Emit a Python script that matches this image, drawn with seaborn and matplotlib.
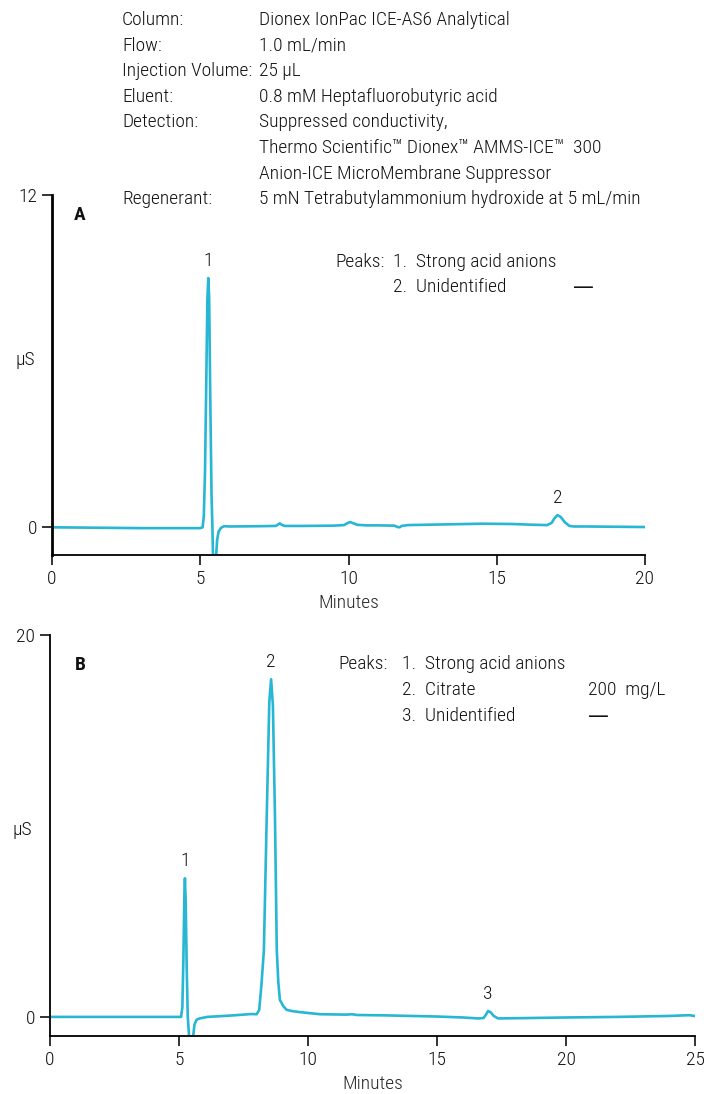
import matplotlib
matplotlib.use("Agg")
import matplotlib.pyplot as plt
import pandas as pd
import seaborn as sns

# ---- Chromatogram A: sample trace (minutes, µS) ----
time_a = [0.0, 1.0, 2.0, 3.0, 4.0, 5.0, 5.08, 5.12, 5.16, 5.20, 5.24, 5.27, 5.30,
          5.34, 5.38, 5.41, 5.44, 5.47, 5.52, 5.57, 5.62, 5.70, 5.80, 6.0, 7.0,
          7.55, 7.62, 7.68, 7.75, 7.85, 8.5, 9.5, 9.85, 9.98, 10.06, 10.15, 10.3,
          10.6, 11.0, 11.55, 11.65, 11.72, 11.8, 12.0, 13.0, 14.0, 14.5, 15.5,
          16.3, 16.7, 16.85, 16.95, 17.05, 17.15, 17.3, 17.45, 17.6, 18.0, 19.0, 20.0]
signal_a = [0.0, -0.01, -0.02, -0.03, -0.03, -0.03, 0.0, 0.4, 2.0, 5.0, 8.2, 9.0, 8.3,
            4.5, 1.2, 0.0, -1.5, -2.8, -1.3, -0.45, -0.15, -0.02, 0.04, 0.03, 0.04,
            0.05, 0.10, 0.14, 0.09, 0.05, 0.05, 0.06, 0.08, 0.16, 0.19, 0.15, 0.09,
            0.07, 0.07, 0.06, 0.01, 0.0, 0.05, 0.08, 0.10, 0.12, 0.13, 0.12,
            0.09, 0.08, 0.16, 0.33, 0.44, 0.38, 0.18, 0.05, 0.03, 0.03, 0.02, 0.01]

# ---- Chromatogram B: sample trace (minutes, µS) ----
time_b = [0.0, 2.0, 4.0, 5.0, 5.08, 5.13, 5.17, 5.21, 5.23, 5.26, 5.30, 5.34, 5.39,
          5.47, 5.55, 5.60, 5.68, 5.80, 6.1, 7.0, 7.8, 8.01, 8.11, 8.20, 8.29,
          8.40, 8.50, 8.57, 8.64, 8.72, 8.79, 8.85, 8.91, 9.05, 9.17, 9.4, 9.69,
          10.47, 11.5, 11.7, 11.9, 13.0, 14.0, 15.0, 16.0, 16.6, 16.8, 16.9,
          16.98, 17.08, 17.2, 17.37, 18.0, 19.0, 20.0, 22.0, 24.0, 24.8, 25.0]
signal_b = [0.0, 0.0, 0.0, 0.0, 0.0, 0.5, 3.0, 6.5, 7.26, 6.0, 2.5, 0.0, -1.0,
            -3.0, -1.0, -0.4, -0.15, -0.08, 0.0, 0.07, 0.15, 0.14, 0.37, 1.76, 3.5,
            10.47, 16.5, 17.68, 16.3, 10.47, 3.5, 1.8, 0.89, 0.55, 0.37, 0.30, 0.25,
            0.14, 0.12, 0.14, 0.10, 0.08, 0.05, 0.02, -0.03, -0.08, -0.06, 0.12,
            0.31, 0.24, 0.05, -0.08, -0.07, -0.05, -0.03, 0.0, 0.05, 0.09, 0.04]

# ---- Peak numbering ----
peak_time_a = [5.27, 17.05]
peak_height_a = [9.0, 0.44]
peak_id_a = ["1", "2"]
peak_time_b = [5.23, 8.57, 16.98]
peak_height_b = [7.26, 17.68, 0.31]
peak_id_b = ["1", "2", "3"]

# ---- Axis ticks ----
x_ticks_a = [0, 5, 10, 15, 20]
y_ticks_a = [0, 12]
x_ticks_b = [0, 5, 10, 15, 20, 25]
y_ticks_b = [0, 20]

# ---- Conditions block ----
condition_names = ["Column:", "Flow:", "Injection Volume:", "Eluent:", "Detection:",
                   "", "", "Regenerant:"]
condition_values = ["Dionex IonPac ICE-AS6 Analytical",
                    "1.0 mL/min",
                    "25 µL",
                    "0.8 mM Heptafluorobutyric acid",
                    "Suppressed conductivity,",
                    "Thermo Scientific\u2122 Dionex\u2122 AMMS-ICE\u2122  300",
                    "Anion-ICE MicroMembrane Suppressor",
                    "5 mN Tetrabutylammonium hydroxide at 5 mL/min"]

# ---- Peak tables ----
table_a_names = ["1.  Strong acid anions", "2.  Unidentified"]
table_a_amounts = ["", "\u2014"]
table_b_names = ["1.  Strong acid anions", "2.  Citrate", "3.  Unidentified"]
table_b_amounts = ["", "200  mg/L", "\u2014"]

sns.set_style("ticks")
plt.rcParams["font.family"] = ["Roboto Condensed", "Liberation Sans", "DejaVu Sans"]
plt.rcParams["font.weight"] = "light"
plt.rcParams["axes.labelweight"] = "light"
TXT = "#111111"
plt.rcParams["text.color"] = TXT
plt.rcParams["xtick.color"] = TXT
plt.rcParams["ytick.color"] = TXT

W, H = 709, 1094
fig = plt.figure(figsize=(W / 100, H / 100), dpi=100)
LINE = "#27b6d3"
FS = 14
DASH_FONT = ["DejaVu Sans"]


def fx(px):
    return px / W


def fy(px):
    return 1 - px / H


def panel(rect, t, s, xticks, yticks, ytop, spine_w):
    ax = fig.add_axes(rect)
    df = pd.DataFrame({"Minutes": t, "uS": s})
    sns.lineplot(data=df, x="Minutes", y="uS", ax=ax, color=LINE, linewidth=1.9,
                 estimator=None, sort=False)
    ax.set_xlim(xticks[0], xticks[-1])
    ax.set_ylim(-1, ytop)
    ax.set_xticks(xticks)
    ax.set_yticks(yticks)
    sns.despine(ax=ax)
    ax.spines["left"].set_linewidth(spine_w)
    ax.spines["bottom"].set_linewidth(1.3)
    ax.spines["left"].set_color("black")
    ax.spines["bottom"].set_color("black")
    ax.tick_params(axis="both", direction="out", length=7, width=1.2,
                   labelsize=FS, colors=TXT)
    ax.tick_params(axis="x", pad=4)
    ax.set_xlabel("Minutes", fontsize=FS, fontweight="light", labelpad=4)
    ax.set_ylabel("")
    return ax


ax_a = panel([fx(52), fy(555), fx(645) - fx(52), fy(195) - fy(555)],
             time_a, signal_a, x_ticks_a, y_ticks_a, 12, 2.0)
ax_b = panel([fx(50), fy(1036), fx(695) - fx(50), fy(635) - fy(1036)],
             time_b, signal_b, x_ticks_b, y_ticks_b, 20, 1.3)

for ax, pt, ph, pid in [(ax_a, peak_time_a, peak_height_a, peak_id_a),
                        (ax_b, peak_time_b, peak_height_b, peak_id_b)]:
    for t, h, lab in zip(pt, ph, pid):
        ax.annotate(lab, xy=(t, h), xytext=(0, 6), textcoords="offset points",
                    ha="center", va="bottom", fontsize=FS)

# unit labels and panel letters
fig.text(fx(25), fy(360), "µS", fontsize=FS, ha="center", va="center")
fig.text(fx(22), fy(830), "µS", fontsize=FS, ha="center", va="center")
fig.text(fx(80), fy(215), "A", fontsize=FS, fontweight="bold", ha="center", va="center")
fig.text(fx(80), fy(665), "B", fontsize=FS, fontweight="bold", ha="center", va="center")

# conditions block
for i, (name, val) in enumerate(zip(condition_names, condition_values)):
    y = 20 + i * 25.6
    fig.text(fx(122), fy(y), name, fontsize=FS, ha="left", va="center")
    fig.text(fx(259), fy(y), val, fontsize=FS, ha="left", va="center")

# peak tables
fig.text(fx(335), fy(262), "Peaks:", fontsize=FS, ha="left", va="center")
for i, (n, a) in enumerate(zip(table_a_names, table_a_amounts)):
    y = 262 + i * 25.5
    fig.text(fx(393), fy(y), n, fontsize=FS, ha="left", va="center")
    if a:
        fig.text(fx(573), fy(y), a, fontsize=15, family=DASH_FONT,
                 fontweight="normal", ha="left", va="center")

fig.text(fx(338), fy(664), "Peaks:", fontsize=FS, ha="left", va="center")
for i, (n, a) in enumerate(zip(table_b_names, table_b_amounts)):
    y = 664 + i * 26
    fig.text(fx(402), fy(y), n, fontsize=FS, ha="left", va="center")
    if a == "\u2014":
        fig.text(fx(588), fy(y), a, fontsize=15, family=DASH_FONT,
                 fontweight="normal", ha="left", va="center")
    elif a:
        fig.text(fx(588), fy(y), a, fontsize=FS, ha="left", va="center")

fig.savefig("out.png", dpi=100)
